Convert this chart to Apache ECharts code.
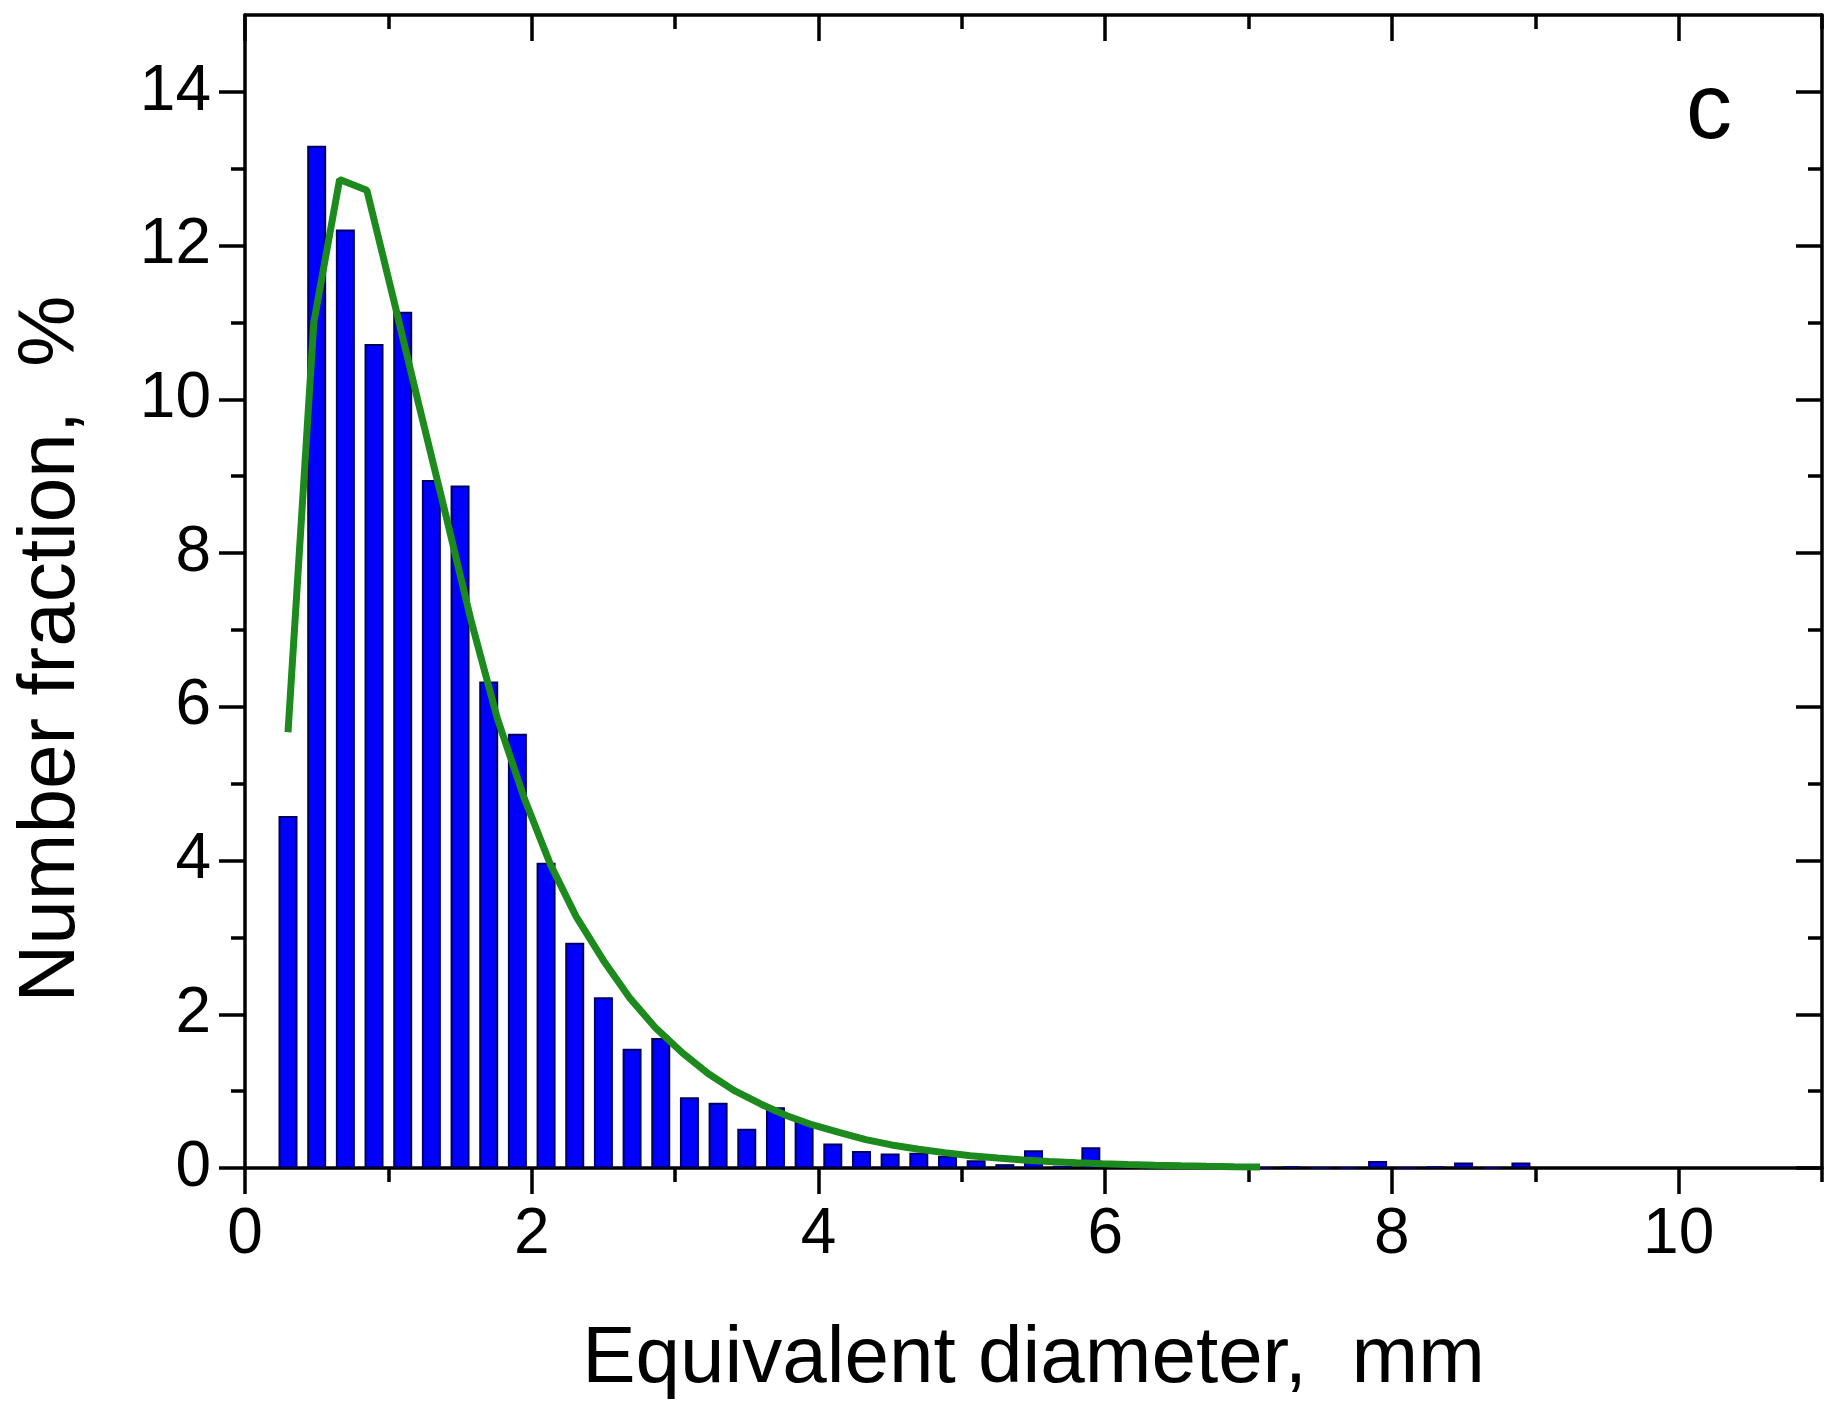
<!DOCTYPE html>
<html>
<head>
<meta charset="utf-8">
<script src="https://cdn.jsdelivr.net/npm/echarts@6/dist/echarts.min.js"></script>
<style>
html,body{margin:0;padding:0;background:#fff;}
#chart{width:1833px;height:1405px;}
</style>
</head>
<body>
<div id="chart"></div>
<script>
// Histogram bins (mm) and number fraction (%)
const binCenters = [0.3,0.5,0.7,0.9,1.1,1.3,1.5,1.7,1.9,2.1,2.3,2.5,2.7,2.9,3.1,3.3,3.5,3.7,3.9,4.1,4.3,4.5,4.7,4.9,5.1,5.3,5.5,5.7,5.9,6.1,6.3,6.5,6.7,6.9,7.1,7.3,7.5,7.7,7.9,8.1,8.3,8.5,8.7,8.9];
const fractions  = [4.58,13.30,12.21,10.72,11.14,8.95,8.88,6.33,5.65,3.97,2.93,2.22,1.55,1.69,0.92,0.85,0.51,0.79,0.60,0.32,0.22,0.19,0.20,0.16,0.10,0.05,0.23,0.03,0.27,0.04,0.02,0.03,0,0.04,0,0.02,0,0,0.09,0,0.02,0.07,0,0.07];

// Fitted distribution curve
const fitX = [0.30,0.48,0.66,0.85,1.03,1.21,1.40,1.58,1.76,1.95,2.13,2.31,2.50,2.68,2.86,3.05,3.23,3.41,3.60,3.78,3.96,4.15,4.33,4.51,4.70,4.88,5.06,5.25,5.43,5.61,5.80,5.98,6.16,6.35,6.53,6.71,6.90,7.08];
const fitY = [5.67,11.0,12.86,12.72,11.35,9.95,8.5,7.1,5.85,4.8,3.95,3.27,2.70,2.22,1.83,1.50,1.23,1.01,0.83,0.68,0.56,0.46,0.37,0.30,0.245,0.20,0.16,0.13,0.105,0.085,0.068,0.055,0.044,0.035,0.028,0.022,0.017,0.013];

// Tick values
const xMajorTicks = [0,2,4,6,8,10];
const xMinorTicks = [1,3,5,7,9,11];
const yMajorTicks = [0,2,4,6,8,10,12,14];
const yMinorTicks = [1,3,5,7,9,11,13];

const FONT = "'Liberation Sans', Arial, sans-serif";
const chart = echarts.init(document.getElementById('chart'), null, {renderer:'canvas'});

function xAx(pos, ticks, len, inside, showLine, showLabel){
  return {
    type:'value', position:pos, min:0, max:11, interval:1,
    axisLine:{show:showLine, onZero:false, lineStyle:{color:'#000', width:3.5}},
    axisTick:{show:true, inside:inside, length:len, customValues:ticks, lineStyle:{color:'#000', width:3.5}},
    axisLabel:{show:showLabel, customValues:showLabel?ticks:undefined, margin:35, color:'#000', fontSize:64, fontFamily:FONT},
    splitLine:{show:false}
  };
}
function yAx(pos, ticks, len, inside, showLine, showLabel){
  return {
    type:'value', position:pos, min:0, max:15, interval:1,
    axisLine:{show:showLine, onZero:false, lineStyle:{color:'#000', width:3.5}},
    axisTick:{show:true, inside:inside, length:len, customValues:ticks, lineStyle:{color:'#000', width:3.5}},
    axisLabel:{show:showLabel, customValues:showLabel?ticks:undefined, margin:34, color:'#000', fontSize:64, fontFamily:FONT},
    splitLine:{show:false}
  };
}

const option = {
  backgroundColor:'#fff',
  animation:false,
  grid:{left:245, right:11, top:15, bottom:236, containLabel:false},
  xAxis:[
    Object.assign(xAx('bottom', xMajorTicks, 26, false, true, true), {
      name:'Equivalent diameter,  mm', nameLocation:'middle', nameGap:152,
      nameTextStyle:{color:'#000', fontSize:80, fontFamily:FONT}
    }),
    xAx('bottom', xMinorTicks, 14, false, false, false),
    xAx('top', xMajorTicks, 26, true, true, false),
    xAx('top', xMinorTicks, 14, true, false, false)
  ],
  yAxis:[
    yAx('left', yMajorTicks, 26, false, true, true),
    yAx('left', yMinorTicks, 14, false, false, false),
    yAx('right', yMajorTicks, 26, true, true, false),
    yAx('right', yMinorTicks, 14, true, false, false)
  ],
  graphic:[
    {type:'text', x:52, y:649, rotation:Math.PI/2,
     style:{text:'Number fraction,  %', fill:'#000', font:'80px ' + FONT, textAlign:'center', textVerticalAlign:'middle'}},
    {type:'text', x:1709, y:113,
     style:{text:'c', fill:'#000', font:'92px ' + FONT, textAlign:'center', textVerticalAlign:'middle'}}
  ],
  series:[
    {type:'bar', xAxisIndex:0, yAxisIndex:0, barWidth:19,
     data: binCenters.map((x,i)=>[x, fractions[i]]),
     itemStyle:{color:'#0000ff', borderColor:'#000060', borderWidth:2},
     z:2},
    {type:'line', xAxisIndex:0, yAxisIndex:0, showSymbol:false, smooth:false,
     data: fitX.map((x,i)=>[x, fitY[i]]),
     lineStyle:{color:'#1c8a1c', width:7},
     z:3}
  ]
};
chart.setOption(option);
</script>
</body>
</html>
